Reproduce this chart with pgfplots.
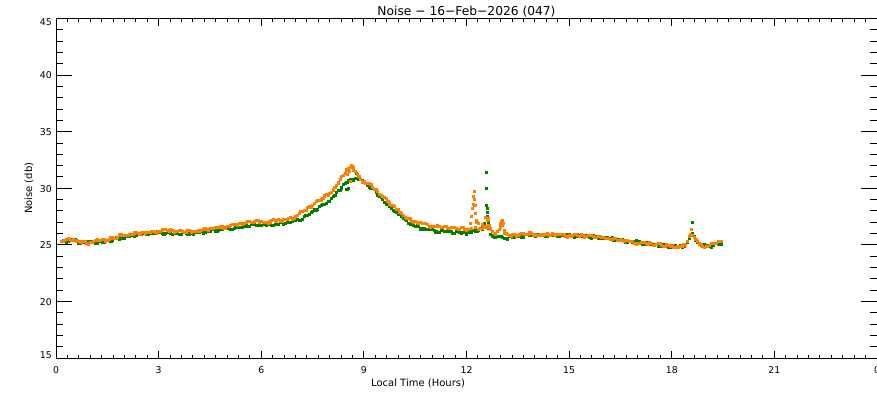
\documentclass[border=0pt]{standalone}
\usepackage{pgfplots}
\pgfplotsset{compat=1.18}
\usepackage{pgfplotstable}
\usepackage{fontspec}
\setmainfont{DejaVu Sans}
\definecolor{ngreen}{RGB}{0,128,0}
\definecolor{norange}{RGB}{255,128,0}

\pgfplotstableread{
x g o
0.2 25.36 25.30
0.3 25.27 25.47
0.4 25.48 25.49
0.5 25.43 25.53
0.6 25.39 25.28
0.7 25.15 25.27
0.8 25.20 25.30
0.9 25.27 25.16
1.0 25.29 25.22
1.1 25.21 25.33
1.2 25.14 25.45
1.3 25.28 25.38
1.4 25.22 25.46
1.5 25.37 25.42
1.6 25.36 25.62
1.7 25.60 25.58
1.8 25.60 25.70
1.9 25.58 25.94
2.0 25.61 25.88
2.1 25.79 25.87
2.2 25.86 25.90
2.3 25.77 26.07
2.4 25.93 25.99
2.5 25.93 26.13
2.6 26.04 26.03
2.7 25.95 26.12
2.8 26.00 26.20
2.9 26.07 26.11
3.0 26.14 26.22
3.1 26.01 26.33
3.2 25.99 26.35
3.3 26.08 26.23
3.4 25.97 26.26
3.5 26.02 26.17
3.6 25.91 26.27
3.7 26.10 26.18
3.8 26.05 26.15
3.9 25.98 26.29
4.0 25.96 26.23
4.1 26.14 26.22
4.2 26.16 26.20
4.3 26.07 26.37
4.4 26.23 26.34
4.5 26.23 26.48
4.6 26.39 26.43
4.7 26.25 26.52
4.8 26.35 26.60
4.9 26.47 26.51
5.0 26.49 26.62
5.1 26.41 26.73
5.2 26.44 26.85
5.3 26.58 26.78
5.4 26.52 26.91
5.5 26.62 26.87
5.6 26.61 27.07
5.7 26.80 27.03
5.8 26.80 27.05
5.9 26.73 27.19
6.0 26.71 27.08
6.1 26.79 26.97
6.2 26.81 26.95
6.3 26.72 27.17
6.4 26.83 27.14
6.5 26.83 27.23
6.6 26.99 27.13
6.7 26.90 27.27
6.8 27.00 27.35
6.9 27.12 27.31
7.0 27.19 27.52
7.1 27.16 27.78
7.2 27.29 28.00
7.3 27.63 28.08
7.4 27.72 28.36
7.5 27.97 28.47
7.6 28.06 28.82
7.7 28.40 28.93
7.8 28.55 29.10
7.9 28.68 29.44
8.0 28.86 29.58
8.1 29.29 29.87
8.2 29.61 30.25
8.3 29.82 30.77
8.4 30.33 31.14
8.5 30.53 31.63
8.6 30.79 31.83
8.7 30.75 31.87
8.8 30.90 31.25
8.9 30.77 30.76
9.0 30.59 30.57
9.1 30.26 30.48
9.2 30.04 30.35
9.3 29.88 29.93
9.4 29.42 29.71
9.5 29.17 29.37
9.6 28.76 29.22
9.7 28.55 28.83
9.8 28.25 28.50
9.9 27.93 28.39
10.0 27.71 28.13
10.1 27.54 27.77
10.2 27.26 27.40
10.3 26.92 27.32
10.4 26.83 27.09
10.5 26.63 27.08
10.6 26.64 26.88
10.7 26.40 26.92
10.8 26.40 26.90
10.9 26.42 26.66
11.0 26.34 26.67
11.1 26.16 26.68
11.2 26.14 26.65
11.3 26.28 26.53
11.4 26.17 26.61
11.5 26.22 26.47
11.6 26.06 26.57
11.7 26.20 26.48
11.8 26.15 26.40
11.9 26.08 26.54
12.0 25.96 26.33
12.1 26.14 26.87
12.2 26.26 28.60
12.3 26.22 27.00
12.4 26.43 26.49
12.5 26.68 26.68
12.6 28.20 27.20
12.7 25.95 26.42
12.8 25.70 26.05
12.9 25.77 26.21
13.0 25.79 26.90
13.1 25.61 26.30
13.2 25.54 25.95
13.3 25.78 25.78
13.4 25.67 25.91
13.5 25.77 25.82
13.6 25.71 26.02
13.7 25.90 25.93
13.8 25.90 25.95
13.9 25.83 26.04
14.0 25.76 25.93
14.1 25.89 25.87
14.2 25.91 25.85
14.3 25.77 25.97
14.4 25.88 25.89
14.5 25.83 25.98
14.6 25.94 25.83
14.7 25.80 25.92
14.8 25.85 25.95
14.9 25.92 25.76
15.0 25.89 25.82
15.1 25.76 25.88
15.2 25.74 25.90
15.3 25.88 25.78
15.4 25.77 25.86
15.5 25.82 25.72
15.6 25.66 25.87
15.7 25.80 25.73
15.8 25.70 25.65
15.9 25.63 25.79
16.0 25.56 25.68
16.1 25.64 25.57
16.2 25.61 25.50
16.3 25.42 25.57
16.4 25.48 25.44
16.5 25.38 25.48
16.6 25.44 25.33
16.7 25.25 25.37
16.8 25.30 25.35
16.9 25.32 25.16
17.0 25.29 25.17
17.1 25.16 25.23
17.2 25.09 25.20
17.3 25.18 25.08
17.4 25.07 25.11
17.5 25.07 24.97
17.6 24.91 25.12
17.7 25.05 24.98
17.8 24.95 24.90
17.9 24.83 24.99
18.0 24.81 24.93
18.1 24.94 24.82
18.2 24.91 24.80
18.3 24.77 24.92
18.4 24.98 24.99
18.5 25.58 25.78
18.6 25.99 25.83
18.7 25.45 25.52
18.8 25.05 25.10
18.9 24.97 24.86
19.0 24.94 24.87
19.1 24.86 24.98
19.2 24.94 25.15
19.3 25.13 25.13
19.4 25.07 25.31
}\noisedata

\pgfplotstableread{
x g o
0.15 25.30 25.28
0.25 25.42 25.37
0.35 25.35 25.57
0.45 25.46 25.43
0.55 25.49 25.42
0.65 25.17 25.34
0.75 25.20 25.25
0.85 25.19 25.30
0.95 25.34 25.09
1.05 25.30 25.22
1.15 25.11 25.43
1.25 25.31 25.40
1.35 25.22 25.51
1.45 25.30 25.36
1.55 25.45 25.53
1.65 25.38 25.66
1.75 25.62 25.60
1.85 25.54 25.89
1.95 25.66 25.81
2.05 25.75 25.82
2.15 25.76 25.93
2.25 25.92 25.97
2.35 25.82 26.12
2.45 25.93 25.98
2.55 26.07 26.09
2.65 25.90 26.14
2.75 26.00 26.12
2.85 25.99 26.23
2.95 26.17 26.07
3.05 26.13 26.22
3.15 25.93 26.38
3.25 26.14 26.27
3.35 26.00 26.34
3.45 26.00 26.14
3.55 26.05 26.23
3.65 25.91 26.29
3.75 26.10 26.13
3.85 25.97 26.29
3.95 26.03 26.16
4.05 26.10 26.17
4.15 26.08 26.25
4.25 26.22 26.27
4.35 26.12 26.45
4.45 26.23 26.33
4.55 26.39 26.47
4.65 26.22 26.54
4.75 26.32 26.52
4.85 26.36 26.63
4.95 26.54 26.47
5.05 26.50 26.62
5.15 26.36 26.83
5.25 26.61 26.80
5.35 26.52 26.94
5.45 26.57 26.81
5.55 26.70 26.98
5.65 26.61 27.11
5.75 26.82 27.00
5.85 26.72 27.19
5.95 26.78 27.04
6.05 26.80 26.97
6.15 26.73 27.00
6.25 26.87 27.04
6.35 26.75 27.25
6.45 26.83 27.11
6.55 26.99 27.19
6.65 26.85 27.26
6.75 26.97 27.27
6.85 27.01 27.40
6.95 27.22 27.32
7.05 27.23 27.59
7.15 27.16 27.93
7.25 27.56 28.02
7.35 27.65 28.31
7.45 27.85 28.34
7.55 28.10 28.66
7.65 28.13 28.94
7.75 28.50 28.98
7.85 28.57 29.34
7.95 28.83 29.41
8.05 29.13 29.67
8.15 29.38 30.10
8.25 29.82 30.49
8.35 30.05 31.05
8.45 30.43 31.31
8.55 30.74 31.74
8.65 30.67 31.91
8.75 30.85 31.52
8.85 30.79 31.08
8.95 30.74 30.57
9.05 30.48 30.47
9.15 30.08 30.46
9.25 30.06 30.12
9.35 29.62 29.91
9.45 29.30 29.46
9.55 29.05 29.31
9.65 28.56 29.09
9.75 28.42 28.63
9.85 28.04 28.52
9.95 27.88 28.16
10.05 27.68 27.89
10.15 27.33 27.63
10.25 27.19 27.34
10.35 26.85 27.30
10.45 26.73 27.01
10.55 26.72 26.99
10.65 26.42 26.96
10.75 26.42 26.87
10.85 26.36 26.85
10.95 26.44 26.57
11.05 26.30 26.62
11.15 26.08 26.71
11.25 26.31 26.57
11.35 26.20 26.66
11.45 26.20 26.46
11.55 26.22 26.53
11.65 26.03 26.59
11.75 26.20 26.40
11.85 26.07 26.54
11.95 26.08 26.34
12.05 26.10 26.35
12.15 26.15 26.45
12.25 26.25 26.55
12.35 26.30 26.40
12.45 26.35 26.50
12.55 26.55 26.60
12.65 26.50 26.60
12.75 25.80 26.20
12.85 25.68 25.95
12.95 25.75 26.40
13.05 25.70 26.70
13.15 25.60 26.05
13.25 25.76 25.85
13.35 25.70 25.94
13.45 25.72 25.79
13.55 25.82 25.93
13.65 25.71 26.04
13.75 25.92 25.90
13.85 25.82 26.07
13.95 25.86 25.89
14.05 25.88 25.84
14.15 25.83 25.90
14.25 25.94 25.89
14.35 25.80 26.02
14.45 25.86 25.86
14.55 25.97 25.92
14.65 25.77 25.94
14.75 25.85 25.90
14.85 25.84 25.93
14.95 25.97 25.69
15.05 25.88 25.79
15.15 25.68 25.93
15.25 25.91 25.82
15.35 25.80 25.91
15.45 25.80 25.71
15.55 25.82 25.81
15.65 25.63 25.86
15.75 25.77 25.65
15.85 25.62 25.79
15.95 25.66 25.64
16.05 25.65 25.57
16.15 25.56 25.58
16.25 25.62 25.52
16.35 25.42 25.60
16.45 25.43 25.38
16.55 25.49 25.42
16.65 25.25 25.41
16.75 25.30 25.32
16.85 25.26 25.33
16.95 25.37 25.07
17.05 25.28 25.14
17.15 25.06 25.26
17.25 25.24 25.12
17.35 25.10 25.19
17.45 25.07 24.96
17.55 25.07 25.06
17.65 24.88 25.11
17.75 25.02 24.90
17.85 24.84 25.02
17.95 24.88 24.86
18.05 24.93 24.82
18.15 24.86 24.85
18.25 24.94 24.84
18.35 24.85 25.05
18.45 25.25 25.35
18.55 25.85 25.90
18.65 25.75 25.70
18.75 25.25 25.30
18.85 24.96 25.05
18.95 25.02 24.77
19.05 24.95 24.87
19.15 24.83 25.11
19.25 25.14 25.12
19.35 25.07 25.31
19.45 25.10 25.28
}\noisehalf

\begin{document}
\begin{tikzpicture}
\useasboundingbox (0pt,0pt) rectangle (657.75pt,297.75pt);
% axis carrying the y ticks
\begin{axis}[
  at={(42pt,29.25pt)}, anchor=south west,
  scale only axis, width=615.75pt, height=254.6pt,
  xmin=0, xmax=24, ymin=15, ymax=45,
  xtick=\empty,
  ytick={15,20,25,30,35,40,45},
  yticklabels={\raisebox{2.8pt}{15},20,25,30,35,40,\raisebox{-2.8pt}{45}},
  minor y tick num=4,
  tick align=inside,
  major tick length=11.75pt, minor tick length=5.5pt,
  axis line style={line width=0.75pt},
  every tick/.style={line width=0.75pt, black},
  yticklabel style={font=\fontsize{7}{8}\selectfont, anchor=base east, inner sep=0pt, xshift=-3pt, yshift=-2.8pt},
]
\end{axis}
% axis carrying data and x ticks
\begin{axis}[
  at={(42pt,29.25pt)}, anchor=south west,
  scale only axis, width=615.75pt, height=254.6pt,
  xmin=0, xmax=24, ymin=15, ymax=45,
  ytick=\empty,
  xtick={0,3,6,9,12,15,18,21,24},
  xticklabels={0,3,6,9,12,15,18,21,0},
  minor x tick num=8,
  tick align=inside,
  major tick length=5.5pt, minor tick length=2.5pt,
  axis line style={line width=0.75pt},
  every tick/.style={line width=0.75pt, black},
  xticklabel style={font=\fontsize{7}{8}\selectfont, anchor=base, inner sep=0pt, yshift=-11.6pt},
  every axis title shift=0pt,
  title={Noise − 16−Feb−2026 (047)},
  title style={at={(axis description cs:0.5,1)}, anchor=base, yshift=2.6pt, font=\fontsize{9.2}{10}\selectfont},
  xlabel={Local Time (Hours)},
  xlabel style={at={(axis description cs:0.441,0)}, anchor=base, yshift=-21pt, font=\fontsize{7.5}{8}\selectfont},
  ylabel={Noise (db)},
  ylabel style={at={(axis description cs:-0.0292,0.5)}, anchor=base, font=\fontsize{7.5}{8}\selectfont},
]
\addplot[only marks, mark=square*, mark size=0.8pt, color=ngreen, mark options={draw=none}] table[x=x, y=g] {\noisedata};
\addplot[only marks, mark=square*, mark size=0.8pt, color=ngreen, mark options={draw=none}] table[x=x, y=g] {\noisehalf};
\addplot[only marks, mark=square*, mark size=0.8pt, color=ngreen, mark options={draw=none}] coordinates {
(12.57,31.4) (12.58,30.0) (12.59,28.5) (12.60,27.9) (12.61,27.5) (12.63,27.0)
(12.45,26.6) (12.52,26.9) (18.60,27.0) (8.78,31.3) (8.50,29.9) (8.55,30.0)
};
\addplot[only marks, mark=square*, mark size=0.8pt, color=norange, mark options={draw=none}] table[x=x, y=o] {\noisedata};
\addplot[only marks, mark=square*, mark size=0.8pt, color=norange, mark options={draw=none}] table[x=x, y=o] {\noisehalf};
\addplot[only marks, mark=square*, mark size=0.8pt, color=norange, mark options={draw=none}] coordinates {
(12.15,27.5) (12.18,28.2) (12.21,29.3) (12.22,29.7) (12.23,29.0) (12.24,28.5)
(12.26,27.8) (12.28,27.2) (12.35,26.9) (12.47,26.8) (12.55,27.4) (12.62,27.3)
(12.65,26.7) (12.98,26.6) (13.02,27.1) (13.05,27.15) (13.08,26.9) (13.12,26.0)
(18.58,26.35) (8.58,31.5) (8.62,32.0) (8.52,31.2) (8.68,31.6) (8.75,31.5) (8.60,30.6)
};
\end{axis}
\end{tikzpicture}
\end{document}
